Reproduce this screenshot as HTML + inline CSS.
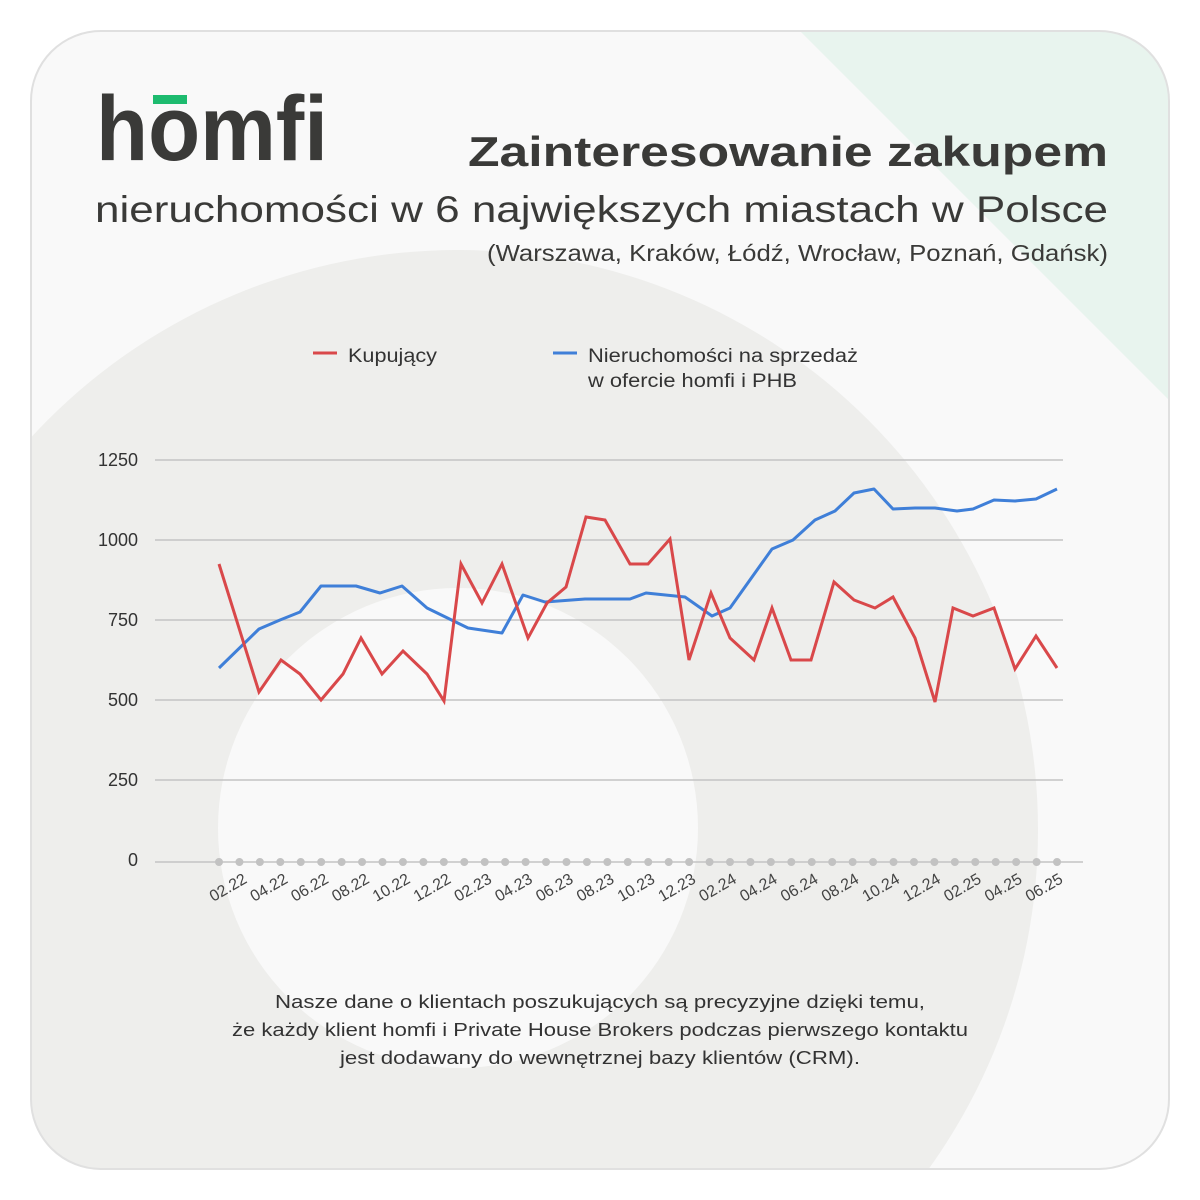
<!DOCTYPE html>
<html><head><meta charset="utf-8"><style>
html,body{margin:0;padding:0;background:#fff;overflow:hidden;width:1200px;height:1200px;}
svg{display:block;}
</style></head><body>
<svg width="1200" height="1200" viewBox="0 0 1200 1200" xmlns="http://www.w3.org/2000/svg" font-family="Liberation Sans, DejaVu Sans, sans-serif">
<defs>
<clipPath id="card"><rect x="31" y="31" width="1138" height="1138" rx="70" ry="70"/></clipPath>
</defs>
<rect width="1200" height="1200" fill="#ffffff"/>
<g clip-path="url(#card)">
<rect x="31" y="31" width="1138" height="1138" fill="#f9f9f9"/>
<polygon points="800,31 1169,31 1169,400" fill="#e8f4ee"/>
<circle cx="458" cy="830" r="580" fill="#eeeeec"/>
<circle cx="458" cy="828" r="240" fill="#f9f9f9"/>
</g>
<rect x="31" y="31" width="1138" height="1138" rx="70" ry="70" fill="none" stroke="#e0e0e0" stroke-width="2"/>

<text x="96" y="160" font-size="92" font-weight="bold" fill="#3a3a38" textLength="232" lengthAdjust="spacingAndGlyphs">homfi</text>
<rect x="153" y="95" width="34" height="9" fill="#1dbb6f"/>

<text x="468" y="166" font-size="42" font-weight="bold" fill="#3a3a38" textLength="640" lengthAdjust="spacingAndGlyphs">Zainteresowanie zakupem</text>
<text x="95" y="222" font-size="37" fill="#3a3a38" textLength="1013" lengthAdjust="spacingAndGlyphs">nieruchomości w 6 największych miastach w Polsce</text>
<text x="487" y="261" font-size="23" fill="#3a3a38" textLength="621" lengthAdjust="spacingAndGlyphs">(Warszawa, Kraków, Łódź, Wrocław, Poznań, Gdańsk)</text>

<line x1="313" y1="353" x2="337" y2="353" stroke="#d9484a" stroke-width="3"/>
<text x="348" y="362" font-size="19" fill="#333" textLength="89" lengthAdjust="spacingAndGlyphs">Kupujący</text>
<line x1="553" y1="353" x2="577" y2="353" stroke="#3f7fd8" stroke-width="3"/>
<text x="588" y="362" font-size="19" fill="#333" textLength="270" lengthAdjust="spacingAndGlyphs">Nieruchomości na sprzedaż</text>
<text x="588" y="387" font-size="19" fill="#333" textLength="209" lengthAdjust="spacingAndGlyphs">w ofercie homfi i PHB</text>

<g stroke="#c4c4c4" stroke-width="1.5">
<line x1="155" y1="460" x2="1063" y2="460"/>
<line x1="155" y1="540" x2="1063" y2="540"/>
<line x1="155" y1="620" x2="1063" y2="620"/>
<line x1="155" y1="700" x2="1063" y2="700"/>
<line x1="155" y1="780" x2="1063" y2="780"/>
<line x1="155" y1="862" x2="1083" y2="862"/>
</g>
<g font-size="18" fill="#333" text-anchor="end">
<text x="138" y="466">1250</text>
<text x="138" y="546">1000</text>
<text x="138" y="626">750</text>
<text x="138" y="706">500</text>
<text x="138" y="786">250</text>
<text x="138" y="866">0</text>
</g>
<line x1="219" y1="862" x2="1058" y2="862" stroke="#c2c2c2" stroke-width="8" stroke-linecap="round" stroke-dasharray="0 20.44"/>

<g font-size="16" fill="#444" text-anchor="end">
<text transform="translate(248,882) rotate(-30)">02.22</text>
<text transform="translate(288.8,882) rotate(-30)">04.22</text>
<text transform="translate(329.6,882) rotate(-30)">06.22</text>
<text transform="translate(370.4,882) rotate(-30)">08.22</text>
<text transform="translate(411.2,882) rotate(-30)">10.22</text>
<text transform="translate(452,882) rotate(-30)">12.22</text>
<text transform="translate(492.8,882) rotate(-30)">02.23</text>
<text transform="translate(533.6,882) rotate(-30)">04.23</text>
<text transform="translate(574.4,882) rotate(-30)">06.23</text>
<text transform="translate(615.2,882) rotate(-30)">08.23</text>
<text transform="translate(656,882) rotate(-30)">10.23</text>
<text transform="translate(696.8,882) rotate(-30)">12.23</text>
<text transform="translate(737.6,882) rotate(-30)">02.24</text>
<text transform="translate(778.4,882) rotate(-30)">04.24</text>
<text transform="translate(819.2,882) rotate(-30)">06.24</text>
<text transform="translate(860,882) rotate(-30)">08.24</text>
<text transform="translate(900.8,882) rotate(-30)">10.24</text>
<text transform="translate(941.6,882) rotate(-30)">12.24</text>
<text transform="translate(982.4,882) rotate(-30)">02.25</text>
<text transform="translate(1023.2,882) rotate(-30)">04.25</text>
<text transform="translate(1064,882) rotate(-30)">06.25</text>
</g>

<polyline fill="none" stroke="#3f7fd8" stroke-width="3" stroke-linejoin="round" points="219,668 259,629 280,620 300,612 321,586 356,586 380,593 402,586 427,608 468,628 502,633 523,595 545,602 585,599 630,599 646,593 685,597 712,616 730,608 772,549 793,540 815,520 835,511 854,493 874,489 893,509 915,508 935,508 957,511 973,509 994,500 1015,501 1036,499 1057,489"/>
<polyline fill="none" stroke="#d9484a" stroke-width="3" stroke-linejoin="miter" points="219,564 259,692 281,660 300,674 321,700 343,674 361,638 382,674 403,651 427,674 444,701 461,564 482,603 502,564 528,638 547,603 566,587 586,517 605,520 630,564 648,564 670,539 689,660 711,593 730,638 754,660 772,608 791,660 811,660 834,582 854,600 875,608 893,597 915,638 935,702 953,608 973,616 994,608 1015,669 1036,636 1057,668"/>

<g font-size="18" fill="#333">
<text x="275" y="1008" textLength="650" lengthAdjust="spacingAndGlyphs">Nasze dane o klientach poszukujących są precyzyjne dzięki temu,</text>
<text x="232" y="1036" textLength="736" lengthAdjust="spacingAndGlyphs">że każdy klient homfi i Private House Brokers podczas pierwszego kontaktu</text>
<text x="340" y="1064" textLength="520" lengthAdjust="spacingAndGlyphs">jest dodawany do wewnętrznej bazy klientów (CRM).</text>
</g>
</svg>
</body></html>
